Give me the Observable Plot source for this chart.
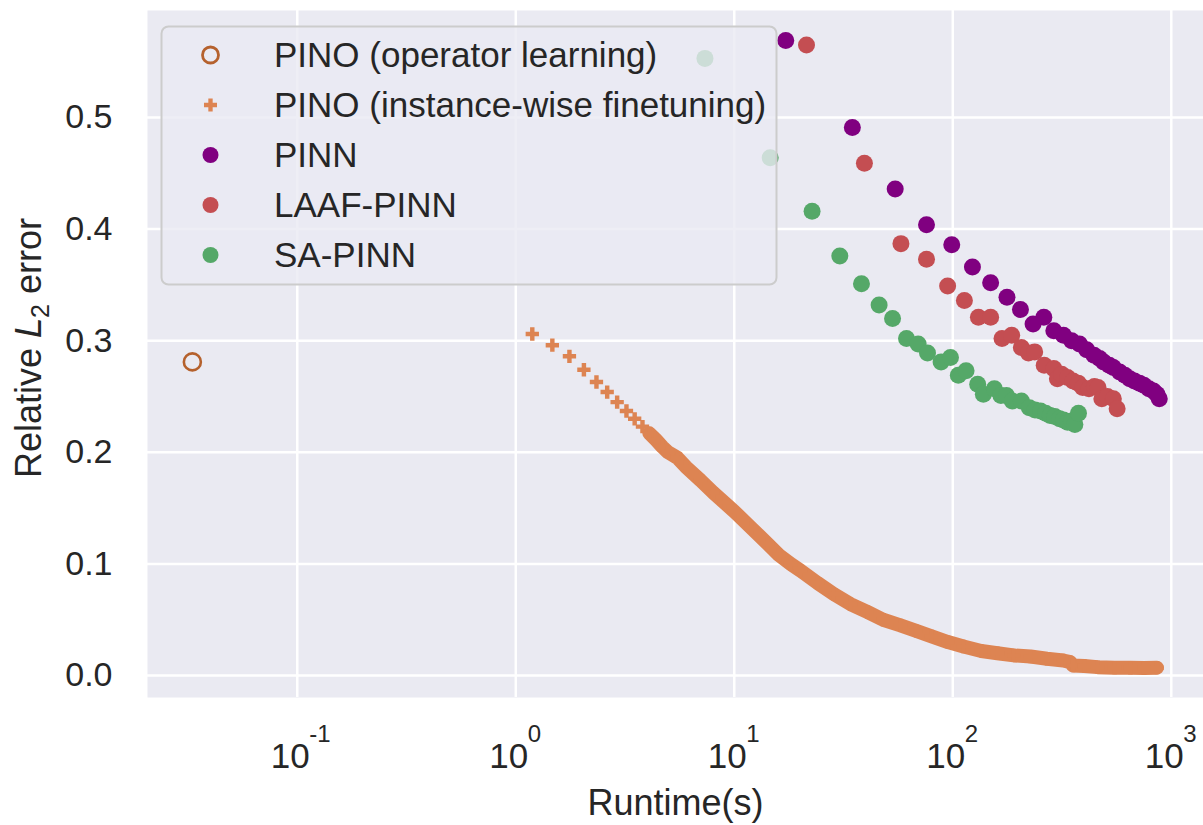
<!DOCTYPE html>
<html>
<head>
<meta charset="utf-8">
<script src="https://cdn.jsdelivr.net/npm/d3@7"></script>
<script src="https://cdn.jsdelivr.net/npm/@observablehq/plot@0.6"></script>
<style>
  html, body { margin: 0; padding: 0; background: #ffffff; }
  #chart { width: 1203px; height: 825px; }
</style>
</head>
<body>
<div id="chart"></div>
<script>
// ---------------- data ----------------
const seriesNames = [
  "PINO (operator learning)",
  "PINO (instance-wise finetuning)",
  "PINN",
  "LAAF-PINN",
  "SA-PINN"
];
const seriesColors = ["#b5612d", "#dd8452", "#800080", "#c44e52", "#55a868"];

// [runtime (s), relative L2 error]
const pinoOperator = [[0.0331, 0.281]];

const pinoFinetune = [
  [1.19, 0.306], [1.47, 0.296], [1.76, 0.286], [2.05, 0.274], [2.34, 0.263],
  [2.62, 0.254], [2.91, 0.245], [3.21, 0.237], [3.50, 0.230], [3.80, 0.223],
  [4.09, 0.217], [4.39, 0.211], [4.68, 0.205], [4.98, 0.200], [5.5, 0.195],
  [6.0, 0.187], [7.0, 0.175], [8.0, 0.164], [9.0, 0.155], [10.0, 0.147],
  [12.0, 0.132], [14.2, 0.118], [16.0, 0.108], [18.1, 0.100], [20.1, 0.094],
  [24, 0.083], [28.5, 0.073], [34, 0.064], [40.6, 0.057], [48, 0.050],
  [57.6, 0.045], [68, 0.040], [80, 0.035], [95, 0.030], [112, 0.026],
  [135, 0.022], [160, 0.020], [190, 0.018], [227, 0.017], [270, 0.015],
  [320, 0.0135], [345, 0.012], [355, 0.009], [400, 0.0085], [460, 0.0075],
  [550, 0.0070], [650, 0.0069], [750, 0.0068], [860, 0.0070]
];

const pinn = [
  [17.2, 0.569], [34.7, 0.491], [54.5, 0.436], [75.8, 0.404], [98.9, 0.386],
  [123, 0.366], [149, 0.352], [177, 0.339], [204, 0.328], [233, 0.315],
  [261, 0.321], [290, 0.309], [321, 0.305], [350, 0.300], [380, 0.297],
  [410, 0.292], [443, 0.287], [470, 0.284], [490, 0.281], [520, 0.278],
  [543, 0.276], [580, 0.272], [613, 0.269], [645, 0.266], [678, 0.264],
  [715, 0.262], [749, 0.260], [790, 0.257], [829, 0.255], [860, 0.252],
  [881, 0.248]
];

const laafPinn = [
  [21.4, 0.565], [39.4, 0.459], [57.9, 0.387], [75.8, 0.373], [94.7, 0.349],
  [113, 0.336], [131, 0.321], [149, 0.321], [168, 0.302], [186, 0.305],
  [206, 0.294], [222, 0.289], [237, 0.290], [262, 0.278], [290, 0.275],
  [301, 0.266], [315, 0.270], [335, 0.267], [355, 0.264], [375, 0.262],
  [393, 0.258], [420, 0.257], [445, 0.259], [462, 0.258], [481, 0.248],
  [510, 0.250], [543, 0.248], [565, 0.239]
];

const saPinn = [
  [7.34, 0.553], [14.6, 0.464], [22.7, 0.416], [30.4, 0.376], [38.2, 0.351],
  [46.0, 0.332], [53.0, 0.320], [61.4, 0.302], [69.4, 0.297], [76.6, 0.289],
  [88.4, 0.281], [97.6, 0.285], [106, 0.269], [115, 0.273], [130, 0.261],
  [138, 0.252], [155, 0.257], [166, 0.251], [176, 0.251], [187, 0.246],
  [206, 0.246], [224, 0.240], [238, 0.238], [252, 0.237], [266, 0.235],
  [279, 0.233], [293, 0.232], [308, 0.230], [321, 0.229], [335, 0.227],
  [349, 0.228], [362, 0.225], [376, 0.235]
];

const xTicks = [0.1, 1, 10, 100, 1000];
const xTickExponents = ["-1", "0", "1", "2", "3"];
const yTicks = [0, 0.1, 0.2, 0.3, 0.4, 0.5];
const xLabel = "Runtime(s)";
const yLabelParts = ["Relative ", "L", "2", " error"];

// ---------------- chart ----------------
const toObj = arr => arr.map(([x, y]) => ({x, y}));
const dOp = toObj(pinoOperator);
const dFt = toObj(pinoFinetune);
const dPinn = toObj(pinn);
const dLaaf = toObj(laafPinn);
const dSa = toObj(saPinn);

const FONT = "'Liberation Sans', Arial, Helvetica, sans-serif";
const TEXT = "#262626";

const chart = Plot.plot({
  width: 1203,
  height: 825,
  marginLeft: 147,
  marginRight: 0,
  marginTop: 10,
  marginBottom: 128,
  style: {fontFamily: FONT, color: TEXT, background: "#ffffff", overflow: "visible"},
  x: {type: "log", domain: [0.02063, 1404], axis: null},
  y: {domain: [-0.0197, 0.5959], axis: null},
  marks: [
    Plot.frame({fill: "#eaeaf2", stroke: null}),
    Plot.gridX(xTicks, {stroke: "#ffffff", strokeOpacity: 1, strokeWidth: 2.5}),
    Plot.gridY(yTicks, {stroke: "#ffffff", strokeOpacity: 1, strokeWidth: 2.5}),
    Plot.axisY(yTicks, {
      tickSize: 0, tickPadding: 35, fontSize: 34, label: null,
      tickFormat: d3.format(".1f"), fill: TEXT
    }),
    Plot.text(xTicks, {
      x: d => d, frameAnchor: "bottom", text: () => "10",
      lineAnchor: "bottom", dy: 70, dx: -7, fontSize: 35, fill: TEXT
    }),
    Plot.text(xTicks, {
      x: d => d, frameAnchor: "bottom", text: (d, i) => xTickExponents[i],
      lineAnchor: "bottom", textAnchor: "start", dy: 44, dx: 12, fontSize: 24, fill: TEXT
    }),
    Plot.text([xLabel], {
      frameAnchor: "bottom", text: d => d, lineAnchor: "bottom",
      dy: 117, fontSize: 36, fill: TEXT
    }),
    // data
    Plot.dot(dOp, {x: "x", y: "y", r: 8.5, stroke: seriesColors[0], strokeWidth: 2.6, fill: "none"}),
    Plot.line(dFt.filter(d => d.x >= 4.09), {
      x: "x", y: "y", stroke: seriesColors[1], strokeWidth: 14, strokeLinejoin: "round"
    }),
    Plot.dot(dFt, {x: "x", y: "y", r: 5.6, symbol: "cross", fill: seriesColors[1], stroke: null}),
    Plot.dot(dPinn, {x: "x", y: "y", r: 8.5, fill: seriesColors[2], stroke: null}),
    Plot.dot(dLaaf, {x: "x", y: "y", r: 8.5, fill: seriesColors[3], stroke: null}),
    Plot.dot(dSa, {x: "x", y: "y", r: 8.5, fill: seriesColors[4], stroke: null})
  ]
});

document.getElementById("chart").appendChild(chart);

// ---------------- y label (italic L with subscript) and legend ----------------
const NS = "http://www.w3.org/2000/svg";
function el(tag, attrs, parent, text) {
  const e = document.createElementNS(NS, tag);
  for (const k in attrs) e.setAttribute(k, attrs[k]);
  if (text != null) e.textContent = text;
  parent.appendChild(e);
  return e;
}

const yl = el("text", {
  transform: "translate(41,348) rotate(-90)", "text-anchor": "middle",
  "font-family": FONT, "font-size": 36, fill: TEXT
}, chart);
el("tspan", {}, yl, yLabelParts[0]);
el("tspan", {"font-style": "italic", "font-family": "'DejaVu Sans', " + FONT}, yl, yLabelParts[1]);
el("tspan", {dy: 8, "font-size": 25}, yl, yLabelParts[2]);
el("tspan", {dy: -8}, yl, yLabelParts[3]);

const lg = el("g", {"font-family": FONT, "font-size": 35, fill: TEXT, "text-anchor": "start"}, chart);
el("rect", {
  x: 161.5, y: 26.5, width: 615, height: 258, rx: 7, ry: 7,
  fill: "#eaeaf2", "fill-opacity": 0.8, stroke: "#cccccc", "stroke-width": 2
}, lg);
seriesNames.forEach((name, i) => {
  const cy = 55 + 50 * i;
  const cx = 210.5;
  if (i === 0) {
    el("circle", {cx, cy, r: 8, fill: "none", stroke: seriesColors[i], "stroke-width": 2.8}, lg);
  } else if (i === 1) {
    el("path", {
      d: d3.symbol(d3.symbolCross, 94)(),
      transform: `translate(${cx},${cy})`, fill: seriesColors[i]
    }, lg);
  } else {
    el("circle", {cx, cy, r: 8, fill: seriesColors[i]}, lg);
  }
  el("text", {x: 274, y: cy, dy: "0.35em", "text-anchor": "start"}, lg, name);
});
</script>
</body>
</html>
